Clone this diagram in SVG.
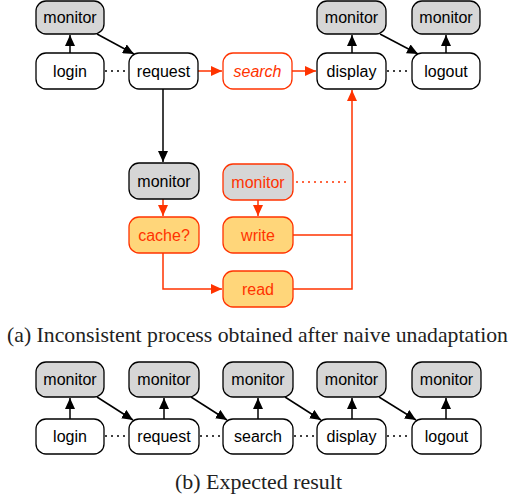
<svg xmlns="http://www.w3.org/2000/svg" width="510" height="501" viewBox="0 0 510 501">
<style>
.n rect{fill:#fff;stroke:#000;stroke-width:1.3}
.m rect{fill:#d6d6d6;stroke:#000;stroke-width:1.3}
.r rect{fill:#fff;stroke:#ff3300;stroke-width:1.3}
.rm rect{fill:#d6d6d6;stroke:#ff3300;stroke-width:1.3}
.o rect{fill:#ffd67a;stroke:#ff3300;stroke-width:1.3}
text{font-family:"Liberation Sans",Arial,sans-serif;font-size:16px;text-anchor:middle}
.r text,.rm text,.o text{fill:#ff3300}
.cap{font-family:"Liberation Serif","Times New Roman",serif;font-size:21.5px;text-anchor:start;fill:#222}
.k{stroke:#000;stroke-width:1.5;fill:none}
.kr{stroke:#ff3300;stroke-width:1.5;fill:none}
.d{stroke:#000;stroke-width:1.3;stroke-dasharray:2 4;fill:none}
.dr{stroke:#ff3300;stroke-width:1.3;stroke-dasharray:2 4;fill:none}
</style>
<defs>
<marker id="ab" markerUnits="userSpaceOnUse" markerWidth="12" markerHeight="10" refX="11" refY="5" orient="auto"><path d="M0,0 L11,5 L0,10 z" fill="#000"/></marker>
<marker id="ar" markerUnits="userSpaceOnUse" markerWidth="12" markerHeight="10" refX="11" refY="5" orient="auto"><path d="M0,0 L11,5 L0,10 z" fill="#ff3300"/></marker>
</defs>

<g id="connectors">
<line class="k" x1="70" y1="53" x2="70" y2="35" marker-end="url(#ab)"/>
<line class="k" x1="97" y1="34" x2="134" y2="54" marker-end="url(#ab)"/>
<line class="d" x1="105" y1="71" x2="128" y2="71"/>
<line class="kr" x1="198" y1="71" x2="222" y2="71" marker-end="url(#ar)"/>
<line class="kr" x1="292" y1="71" x2="316" y2="71" marker-end="url(#ar)"/>
<line class="k" x1="352" y1="53" x2="352" y2="35" marker-end="url(#ab)"/>
<line class="k" x1="380" y1="34" x2="418" y2="54" marker-end="url(#ab)"/>
<line class="d" x1="387" y1="71" x2="411" y2="71"/>
<line class="k" x1="446" y1="53" x2="446" y2="35" marker-end="url(#ab)"/>
<line class="k" x1="163" y1="89" x2="163" y2="162" marker-end="url(#ab)"/>
<line class="kr" x1="163" y1="199" x2="163" y2="216" marker-end="url(#ar)"/>
<line class="kr" x1="258" y1="200" x2="258" y2="216" marker-end="url(#ar)"/>
<path class="kr" d="M163,253 V289 H222" marker-end="url(#ar)"/>
<path class="kr" d="M293,289 H352 V90" marker-end="url(#ar)"/>
<path class="kr" d="M293,235 H352"/>
<path class="dr" d="M296,182 H350"/>

<line class="k" x1="70" y1="419" x2="70" y2="398" marker-end="url(#ab)"/>
<line class="k" x1="164" y1="419" x2="164" y2="398" marker-end="url(#ab)"/>
<line class="k" x1="258" y1="419" x2="258" y2="398" marker-end="url(#ab)"/>
<line class="k" x1="352" y1="419" x2="352" y2="398" marker-end="url(#ab)"/>
<line class="k" x1="446" y1="419" x2="446" y2="398" marker-end="url(#ab)"/>
<line class="k" x1="97" y1="397" x2="133" y2="420" marker-end="url(#ab)"/>
<line class="k" x1="191" y1="397" x2="227" y2="420" marker-end="url(#ab)"/>
<line class="k" x1="285" y1="397" x2="321" y2="420" marker-end="url(#ab)"/>
<line class="k" x1="379" y1="397" x2="416" y2="420" marker-end="url(#ab)"/>
<line class="d" x1="105" y1="436" x2="128" y2="436"/>
<line class="d" x1="200" y1="436" x2="222" y2="436"/>
<line class="d" x1="294" y1="436" x2="316" y2="436"/>
<line class="d" x1="387" y1="436" x2="411" y2="436"/>
</g>

<g id="a-monitor-login" class="m"><rect x="36" y="1" width="68" height="33" rx="10"/><text x="70" y="23">monitor</text></g>
<g id="a-login" class="n"><rect x="36" y="53" width="68" height="36" rx="10"/><text x="70" y="77">login</text></g>
<g id="a-request" class="n"><rect x="129" y="53" width="69" height="36" rx="10"/><text x="163.5" y="77">request</text></g>
<g id="a-search" class="r"><rect x="223" y="53" width="69" height="36" rx="10"/><text x="257.5" y="77" font-style="italic">search</text></g>
<g id="a-monitor-display" class="m"><rect x="317" y="1" width="69" height="33" rx="10"/><text x="351.5" y="23">monitor</text></g>
<g id="a-display" class="n"><rect x="317" y="53" width="69" height="36" rx="10"/><text x="351.5" y="77">display</text></g>
<g id="a-monitor-logout" class="m"><rect x="412" y="1" width="68" height="33" rx="10"/><text x="446" y="23">monitor</text></g>
<g id="a-logout" class="n"><rect x="412" y="53" width="68" height="36" rx="10"/><text x="446" y="77">logout</text></g>
<g id="a-monitor-cache" class="m"><rect x="129" y="163" width="70" height="36" rx="10"/><text x="164" y="187">monitor</text></g>
<g id="a-cache" class="o"><rect x="129" y="217" width="70" height="36" rx="10"/><text x="164" y="241">cache?</text></g>
<g id="a-monitor-write" class="rm"><rect x="223" y="164" width="70" height="36" rx="10"/><text x="258" y="188">monitor</text></g>
<g id="a-write" class="o"><rect x="223" y="217" width="70" height="36" rx="10"/><text x="258" y="241">write</text></g>
<g id="a-read" class="o"><rect x="223" y="271" width="70" height="36" rx="10"/><text x="258" y="295">read</text></g>

<text class="cap" x="7" y="342" textLength="501" lengthAdjust="spacingAndGlyphs">(a) Inconsistent process obtained after naive unadaptation</text>

<g id="b-monitor-1" class="m"><rect x="36" y="362" width="68" height="35" rx="10"/><text x="70" y="385">monitor</text></g>
<g id="b-monitor-2" class="m"><rect x="129" y="362" width="70" height="35" rx="10"/><text x="164" y="385">monitor</text></g>
<g id="b-monitor-3" class="m"><rect x="223" y="362" width="70" height="35" rx="10"/><text x="258" y="385">monitor</text></g>
<g id="b-monitor-4" class="m"><rect x="317" y="362" width="69" height="35" rx="10"/><text x="351.5" y="385">monitor</text></g>
<g id="b-monitor-5" class="m"><rect x="412" y="362" width="69" height="35" rx="10"/><text x="446.5" y="385">monitor</text></g>
<g id="b-login" class="n"><rect x="36" y="419" width="68" height="35" rx="10"/><text x="70" y="442">login</text></g>
<g id="b-request" class="n"><rect x="129" y="419" width="70" height="35" rx="10"/><text x="164" y="442">request</text></g>
<g id="b-search" class="n"><rect x="223" y="419" width="70" height="35" rx="10"/><text x="258" y="442">search</text></g>
<g id="b-display" class="n"><rect x="317" y="419" width="69" height="35" rx="10"/><text x="351.5" y="442">display</text></g>
<g id="b-logout" class="n"><rect x="412" y="419" width="69" height="35" rx="10"/><text x="446.5" y="442">logout</text></g>

<text class="cap" x="175" y="489" textLength="167" lengthAdjust="spacingAndGlyphs">(b) Expected result</text>
</svg>
